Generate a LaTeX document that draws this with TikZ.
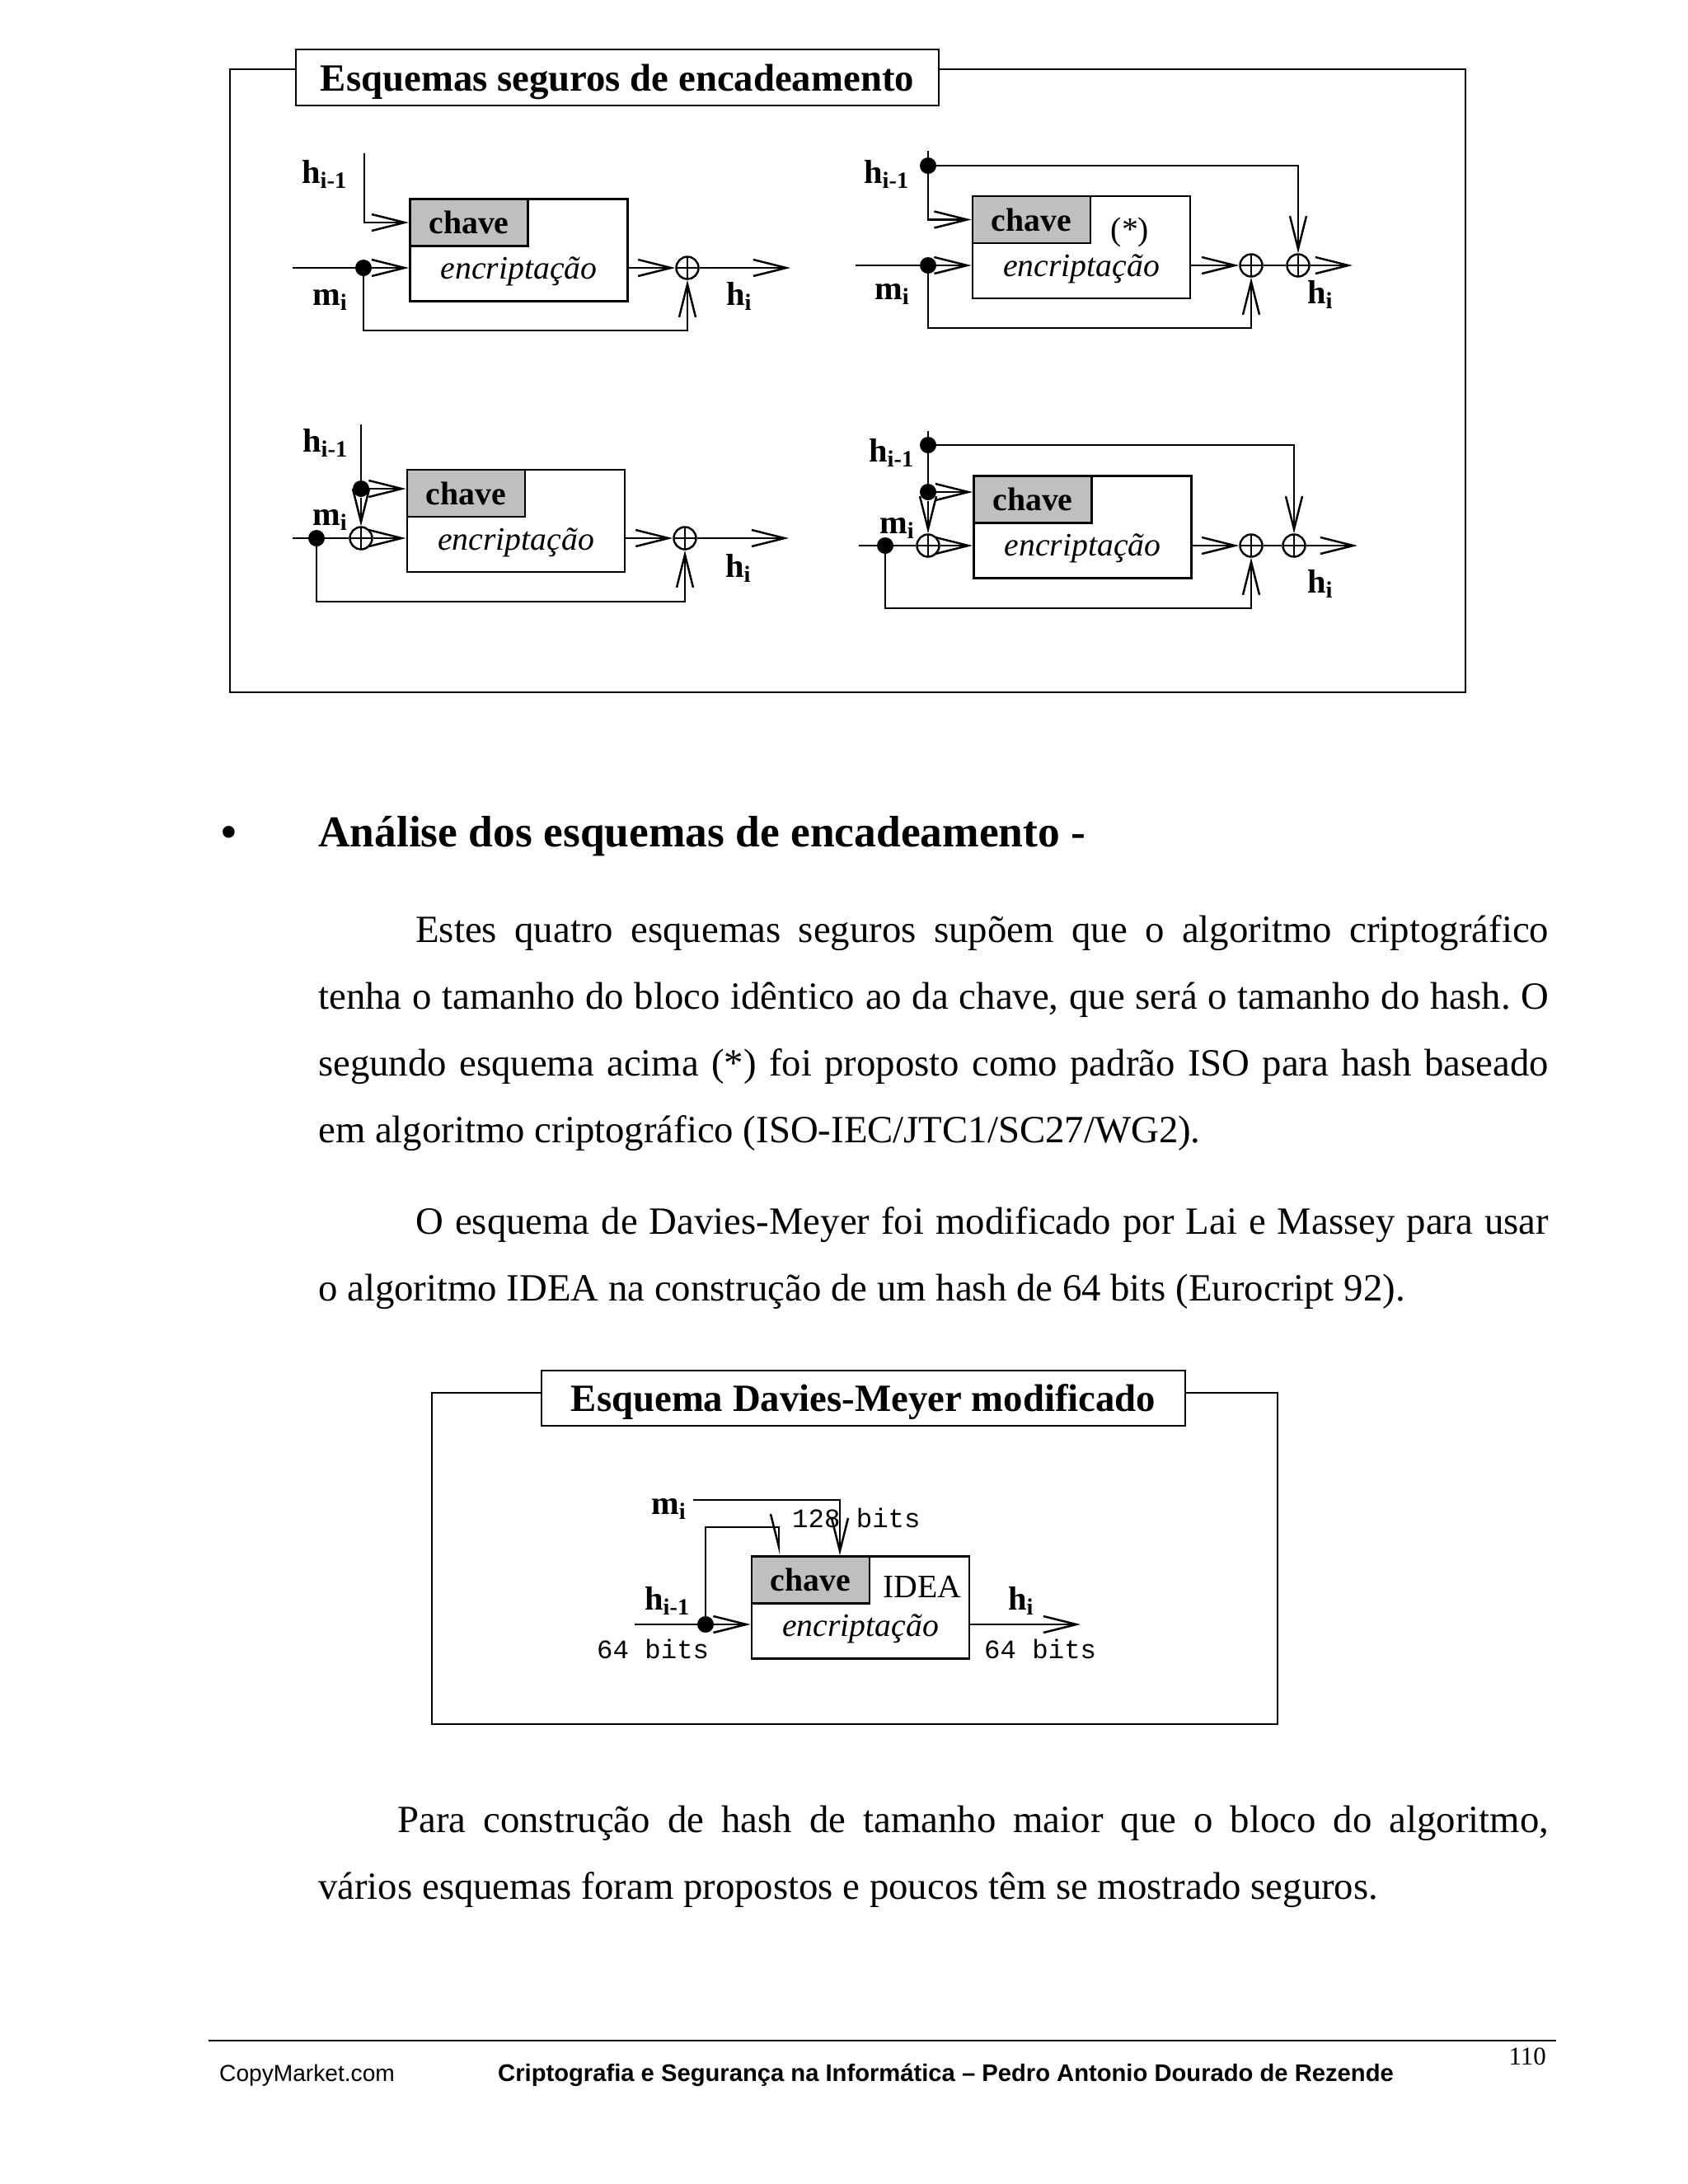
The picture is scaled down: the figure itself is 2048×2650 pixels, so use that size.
\documentclass[tikz,border=0pt]{standalone}
\usepackage{fontspec}
\setmainfont{Liberation Serif}
\setmonofont{Liberation Mono}
\newfontfamily\footsans{Liberation Sans}
\usetikzlibrary{arrows.meta,positioning,calc}

\newcommand\bodyfont{\fontsize{13.3}{23.04}\selectfont\frenchspacing\hyphenpenalty=10000\exhyphenpenalty=10000}
\newcommand\headfont{\fontsize{15.2}{18}\selectfont\bfseries}
\newcommand\titlefont{\fontsize{13.3}{16}\selectfont\bfseries}
\newcommand\lblfont{\fontsize{11.5}{13}\selectfont\bfseries}
\newcommand\boxfont{\fontsize{11.3}{13}\selectfont}
\newcommand\bitsfont{\fontsize{9.2}{11}\selectfont\ttfamily}
\newcommand\hprev{h\textsubscript{i-1}}
\newcommand\hcur{h\textsubscript{i}}
\newcommand\mcur{m\textsubscript{i}}

\begin{document}
\begin{tikzpicture}[x=0.01cm,y=-0.01cm,line width=0.7pt,
outerframe/.style={draw,line width=0.6pt},
ttlbox/.style={draw,fill=white,line width=0.6pt,minimum width=7.8cm,minimum height=0.68cm,text depth=0pt,inner sep=0,font=\titlefont},
encbox/.style={draw,line width=0.8pt,minimum width=2.64cm,minimum height=1.24cm,inner sep=0},
keybox/.style={draw,line width=0.8pt,fill=gray!50,minimum width=1.43cm,minimum height=0.57cm,inner sep=0,anchor=north west,font=\boxfont\bfseries},
enclbl/.style={font=\boxfont\itshape,inner sep=0,anchor=base},
lbl/.style={font=\lblfont,inner sep=0,anchor=base west},
bits/.style={font=\bitsfont,inner sep=0,anchor=base west},
jdot/.style={circle,fill,inner sep=0,minimum size=2mm},
xor/.style={circle,draw,inner sep=0,minimum size=2.7mm,
  path picture={\draw (path picture bounding box.north) -- (path picture bounding box.south)
  (path picture bounding box.west) -- (path picture bounding box.east);}},
arr/.style={-{Straight Barb[length=4mm,width=2mm]}},
arrhalf/.style={-{Straight Barb[length=4mm,width=2mm,right]}},
txt/.style={font=\bodyfont,inner sep=0,anchor=base west,text width=14.92cm,align=justify}]
\fill[white] (0,0) rectangle (2048,2650);
\useasboundingbox (0,0) rectangle (2048,2650);

% quadro dos esquemas seguros
\draw[outerframe] (279,84) rectangle (1778,840);
\node[ttlbox] (ttl1) at (749,94) {Esquemas seguros de encadeamento};

% esquema 1
\node[encbox] (enc1) at (629.5,303.5) {};
\node[keybox] (key1) at (enc1.north west) {chave};
\node[enclbl] (ecl1) at ([yshift=-0.35cm]enc1.center) {encriptação};
\coordinate (hin1) at (442,186);
\coordinate (min1) at (355,325);
\node[jdot] (dot1) at (441,325) {};
\node[xor] (xor1) at (834,325) {};
\coordinate (loop1) at (834,401);
\coordinate (hout1) at (959,325);
\draw[arr] (hin1) |- (key1.west);
\draw[arr] (min1) -- (min1 -| enc1.west);
\draw[arr] (dot1.center) |- (loop1) -- (xor1);
\draw[arr] (enc1.east |- xor1) -- (xor1);
\draw[arr] (xor1) -- (hout1);
\node[lbl] (lh1) at (365,222) {\hprev};
\node[lbl] (lm1) at (378,370) {\mcur};
\node[lbl] (lo1) at (880,370) {\hcur};

% esquema 2 (*)
\node[encbox] (enc2) at (1312,300) {};
\node[keybox] (key2) at (enc2.north west) {chave};
\node[enclbl] (ecl2) at ([yshift=-0.35cm]enc2.center) {encriptação};
\node[inner sep=0,font=\boxfont] (ast2) at (1371,282) {(*)};
\coordinate (hin2) at (1126,183);
\node[jdot] (dot2h) at (1126,201) {};
\coordinate (min2) at (1038,322);
\node[jdot] (dot2m) at (1126,322) {};
\node[xor] (xor2a) at (1518,322) {};
\node[xor] (xor2b) at (1575,322) {};
\coordinate (loop2) at (1518,398);
\coordinate (hout2) at (1641,322);
\draw (hin2) -- (dot2h.center);
\draw[arr] (dot2h.center) |- (key2.west);
\draw[arr] (dot2h.center) -| (xor2b);
\draw[arr] (min2) -- (min2 -| enc2.west);
\draw[arr] (dot2m.center) |- (loop2) -- (xor2a);
\draw[arr] (enc2.east |- xor2a) -- (xor2a);
\draw (xor2a) -- (xor2b);
\draw[arr] (xor2b) -- (hout2);
\node[lbl] (lh2) at (1047,222) {\hprev};
\node[lbl] (lm2) at (1060,363) {\mcur};
\node[lbl] (lo2) at (1585,368) {\hcur};

% esquema 3
\node[encbox] (enc3) at (626,632) {};
\node[keybox] (key3) at (enc3.north west) {chave};
\node[enclbl] (ecl3) at ([yshift=-0.35cm]enc3.center) {encriptação};
\coordinate (hin3) at (438,515);
\node[jdot] (dot3h) at (438,593) {};
\coordinate (min3) at (355,653);
\node[jdot] (dot3m) at (384,653) {};
\node[xor] (xor3a) at (438,653) {};
\node[xor] (xor3b) at (831,653) {};
\coordinate (loop3) at (831,730);
\coordinate (hout3) at (957,653);
\draw (hin3) -- (dot3h.center);
\draw[arr] (dot3h.center) -- (dot3h -| enc3.west);
\draw[arr] (dot3h) -- (xor3a);
\draw (min3) -- (xor3a);
\draw[arr] (xor3a) -- (xor3a -| enc3.west);
\draw[arr] (dot3m.center) |- (loop3) -- (xor3b);
\draw[arr] (enc3.east |- xor3b) -- (xor3b);
\draw[arr] (xor3b) -- (hout3);
\node[lbl] (lh3) at (366,548) {\hprev};
\node[lbl] (lm3) at (378,637) {\mcur};
\node[lbl] (lo3) at (879,700) {\hcur};

% esquema 4
\node[encbox] (enc4) at (1313.5,639.5) {};
\node[keybox] (key4) at (enc4.north west) {chave};
\node[enclbl] (ecl4) at ([yshift=-0.35cm]enc4.center) {encriptação};
\coordinate (hin4) at (1126,523);
\node[jdot] (dot4a) at (1126,540) {};
\node[jdot] (dot4b) at (1126,597) {};
\coordinate (min4) at (1042,662);
\node[jdot] (dot4m) at (1074,662) {};
\node[xor] (xor4a) at (1126,662) {};
\node[xor] (xor4b) at (1518,662) {};
\node[xor] (xor4c) at (1570,662) {};
\coordinate (loop4) at (1518,738);
\coordinate (hout4) at (1647,662);
\draw (hin4) -- (dot4b.center);
\draw[arr] (dot4a.center) -| (xor4c);
\draw[arr] (dot4b.center) -- (dot4b -| enc4.west);
\draw[arr] (dot4b) -- (xor4a);
\draw (min4) -- (xor4a);
\draw[arr] (xor4a) -- (xor4a -| enc4.west);
\draw[arr] (dot4m.center) |- (loop4) -- (xor4b);
\draw[arr] (enc4.east |- xor4b) -- (xor4b);
\draw (xor4b) -- (xor4c);
\draw[arr] (xor4c) -- (hout4);
\node[lbl] (lh4) at (1053,560) {\hprev};
\node[lbl] (lm4) at (1066,647) {\mcur};
\node[lbl] (lo4) at (1585,719) {\hcur};

% texto
\node[inner sep=0,font=\headfont,anchor=base] (bul) at (278,1027) {\textbullet};
\node[inner sep=0,font=\headfont,anchor=base west] (head) at (385,1027) {Análise dos esquemas de encadeamento -};
\node[txt] (par1) at (385,1143) {\hspace*{1.18cm}Estes quatro esquemas seguros supõem que o algoritmo criptográfico\linebreak
tenha o tamanho do bloco idêntico ao da chave, que será o tamanho do hash. O\linebreak
segundo esquema acima (*) foi proposto como padrão ISO para hash baseado\linebreak
em algoritmo criptográfico (ISO-IEC/JTC1/SC27/WG2).};
\node[txt] (par2) at (385,1497) {\hspace*{1.18cm}O esquema de Davies-Meyer foi modificado por Lai e Massey para usar\linebreak
o algoritmo IDEA na construção de um hash de 64 bits (Eurocript 92).};

% Davies-Meyer modificado
\draw[outerframe] (524,1690) rectangle (1550,2092);
\node[ttlbox,minimum width=7.81cm,minimum height=0.67cm] (ttl5) at (1047.5,1696.5) {Esquema Davies-Meyer modificado};
\node[encbox] (enc5) at (1044,1950.5) {};
\node[keybox] (key5) at (enc5.north west) {chave};
\node[enclbl] (ecl5) at ([yshift=-0.35cm]enc5.center) {encriptação};
\node[inner sep=0,font=\boxfont,anchor=base west] (idea5) at (1070,1938) {IDEA};
\coordinate (min5) at (841,1820);
\coordinate (mk5) at (1019,1820);
\coordinate (hin5) at (770,1971);
\node[jdot] (dot5) at (856,1971) {};
\coordinate (hk5) at (945,1853);
\coordinate (hout5) at (1311,1971);
\draw[arr] (min5) -- (mk5) -- (mk5 |- enc5.north);
\draw[arr] (hin5) -- (hin5 -| enc5.west);
\draw[arrhalf] (dot5.center) |- (hk5) -- (hk5 |- enc5.north);
\draw[arr] (enc5.east |- hout5) -- (hout5);
\node[lbl] (lm5) at (789,1837) {\mcur};
\node[lbl] (lh5) at (781,1953) {\hprev};
\node[lbl] (lo5) at (1222,1953) {\hcur};
\node[bits] (b128) at (960,1853) {128 bits};
\node[bits] (b64a) at (723,2012) {64 bits};
\node[bits] (b64b) at (1193,2012) {64 bits};

\node[txt] (par3) at (385,2223) {\hspace*{0.96cm}Para construção de hash de tamanho maior que o bloco do algoritmo,\linebreak
vários esquemas foram propostos e poucos têm se mostrado seguros.};

% rodape
\coordinate (rl) at (253,2476);
\coordinate (rr) at (1888,2476);
\draw[line width=0.6pt] (rl) -- (rr);
\node[inner sep=0,font=\footsans\fontsize{8}{10}\selectfont,anchor=base west] (copy) at (265,2525) {CopyMarket.com};
\node[inner sep=0,font=\footsans\fontsize{8.3}{10}\selectfont\bfseries,anchor=base west] (book) at (603,2525) {Criptografia e Segurança na Informática – Pedro Antonio Dourado de Rezende};
\node[inner sep=0,font=\fontsize{8.8}{10}\selectfont,anchor=base east] (pgno) at (1877,2505) {110};
\end{tikzpicture}
\end{document}
